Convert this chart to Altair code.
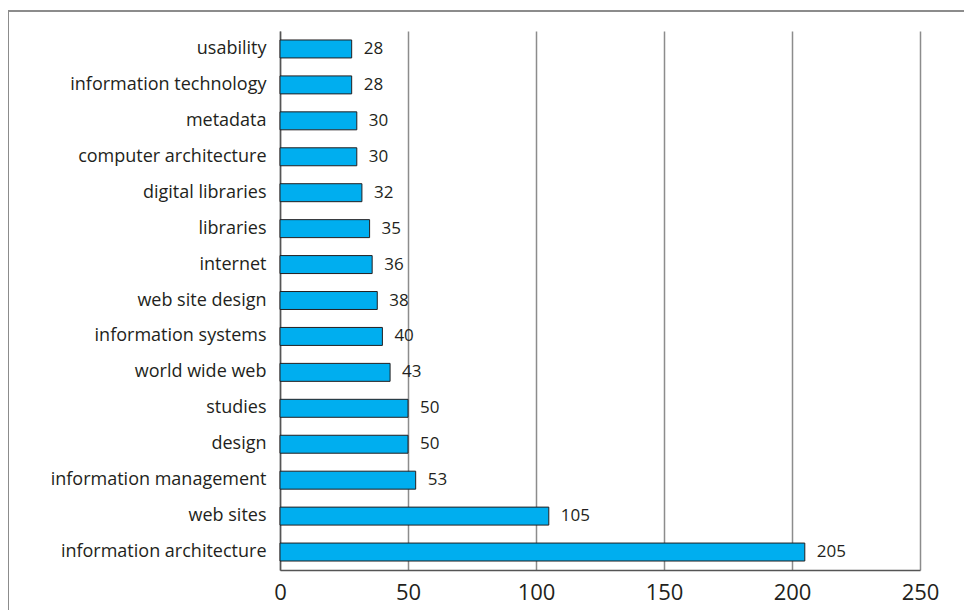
import altair as alt
import pandas as pd

categories = [
    "usability", "information technology", "metadata", "computer architecture",
    "digital libraries", "libraries", "internet", "web site design",
    "information systems", "world wide web", "studies", "design",
    "information management", "web sites", "information architecture",
]
values = [28, 28, 30, 30, 32, 35, 36, 38, 40, 43, 50, 50, 53, 105, 205]
x_ticks = [0, 50, 100, 150, 200, 250]

df = pd.DataFrame({"term": categories, "count": values})

FONT = "Open Sans"
TXT = "#231F20"

base = alt.Chart(df)

bars = base.mark_bar(color="#00AEEF", stroke=TXT, strokeWidth=1).encode(
    x=alt.X("count:Q", scale=alt.Scale(domain=[0, 250], nice=False),
            axis=alt.Axis(values=x_ticks, title=None, grid=True, gridColor="#8c8c8c",
                          gridWidth=1.5, ticks=False, domain=True, domainColor="#555555",
                          domainWidth=1.5, labelFontSize=22, labelColor=TXT,
                          labelFont=FONT, labelPadding=12, labelFlush=False)),
    y=alt.Y("term:N", sort=categories,
            scale=alt.Scale(paddingInner=0.5, paddingOuter=0.25),
            axis=alt.Axis(title=None, ticks=False, domain=True, domainColor="#555555",
                          domainWidth=1.5, labelFontSize=18, labelColor=TXT,
                          labelFont=FONT, labelPadding=14, labelLimit=400)),
)

labels = base.mark_text(align="left", baseline="middle", dx=12, fontSize=17,
                        font=FONT, color=TXT).encode(
    x="count:Q",
    y=alt.Y("term:N", sort=categories),
    text="count:Q",
)

frame_top = alt.Chart(df).mark_rule(color="#8c8c8c", strokeWidth=1.5).encode(
    x=alt.value(-272), x2=alt.value(700), y=alt.value(-20)
)
frame_left = alt.Chart(df).mark_rule(color="#8c8c8c", strokeWidth=1.5).encode(
    x=alt.value(-272), y=alt.value(-20), y2=alt.value(620)
)

chart = alt.layer(bars, labels, frame_top, frame_left).properties(
    width=640, height=539,
    padding={"left": 272, "top": 23, "right": 44, "bottom": 40},
    autosize=alt.AutoSizeParams(type="none"),
).configure_view(stroke=None)

chart.save("out.html", embed_options={"renderer": "svg", "actions": False})
